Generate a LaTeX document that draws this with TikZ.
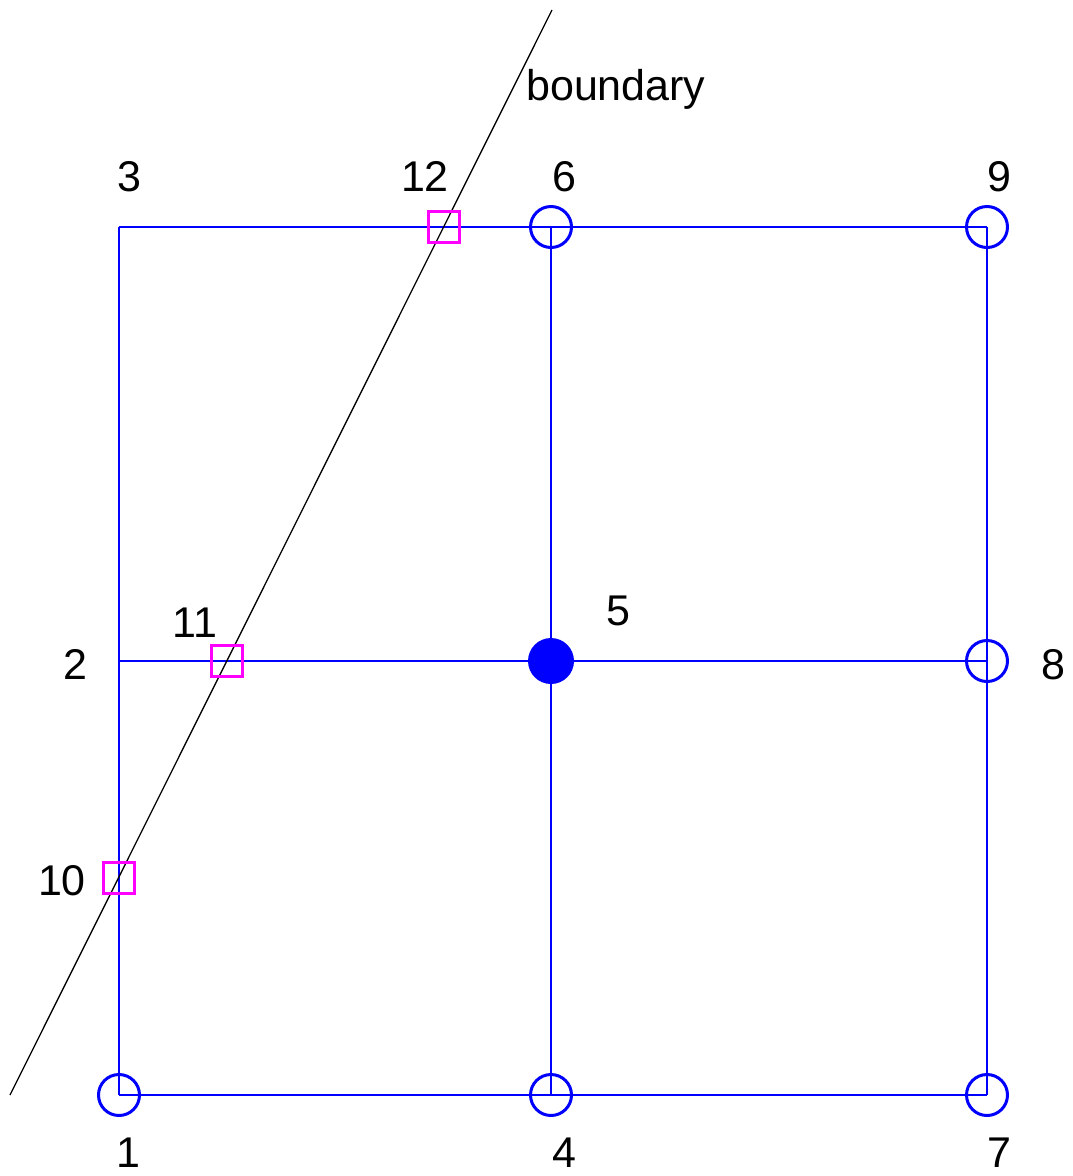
\documentclass[tikz,border=0pt]{standalone}
\usepackage{fontspec}
\setmainfont{Liberation Sans}
\definecolor{gridblue}{RGB}{0,0,255}
\definecolor{mag}{RGB}{255,0,255}
\begin{document}
\begin{tikzpicture}[x=1pt,y=-1pt,
  gridline/.style={draw=gridblue,line width=2pt},
  opennode/.style={circle,draw=gridblue,line width=3pt,minimum size=41pt,inner sep=0pt},
  fillnode/.style={circle,fill=gridblue,minimum size=46pt,inner sep=0pt},
  cutnode/.style={rectangle,draw=mag,line width=3pt,minimum size=31pt,inner sep=0pt},
  lbl/.style={anchor=base,inner sep=0pt,font=\fontsize{43}{50}\selectfont}]
\useasboundingbox (0,0) rectangle (1073,1176);
% grid points
\coordinate (p1) at (119,1095);
\coordinate (p2) at (119,661);
\coordinate (p3) at (119,227);
\coordinate (p4) at (551,1095);
\coordinate (p5) at (551,661);
\coordinate (p6) at (551,227);
\coordinate (p7) at (987,1095);
\coordinate (p8) at (987,661);
\coordinate (p9) at (987,227);
\coordinate (b0) at (10,1095);
\coordinate (b1) at (552,10);
% grid lines
\draw[gridline] (p1) -- (p2) -- (p3);
\draw[gridline] (p4) -- (p5) -- (p6);
\draw[gridline] (p7) -- (p8) -- (p9);
\draw[gridline] (p1) -- (p4) -- (p7);
\draw[gridline] (p2) -- (p5) -- (p8);
\draw[gridline] (p3) -- (p6) -- (p9);
% boundary
\draw[black,line width=1.3pt] (b0) -- (b1);
% markers
\node[opennode] (m1) at (p1) {};
\node[opennode] (m4) at (p4) {};
\node[opennode] (m7) at (p7) {};
\node[opennode] (m8) at (p8) {};
\node[opennode] (m6) at (p6) {};
\node[opennode] (m9) at (p9) {};
\node[fillnode] (m5) at (p5) {};
\node[cutnode] (m10) at (119,878) {};
\node[cutnode] (m11) at (227,661) {};
\node[cutnode] (m12) at (444,227) {};
% labels
\node[lbl] (l3) at (129,191) {3};
\node[lbl] (l12) at (425,191) {12};
\node[lbl] (l6) at (564,191) {6};
\node[lbl] (l9) at (999,191) {9};
\node[lbl,anchor=base west] (lb) at (526,100) {boundary};
\node[lbl] (l5) at (618,625) {5};
\node[lbl] (l11) at (195,637) {11};
\node[lbl] (l2) at (75,679) {2};
\node[lbl] (l8) at (1053,679) {8};
\node[lbl] (l10) at (62,895) {10};
\node[lbl] (l1) at (128,1167) {1};
\node[lbl] (l4) at (564,1167) {4};
\node[lbl] (l7) at (999,1167) {7};
\end{tikzpicture}
\end{document}
